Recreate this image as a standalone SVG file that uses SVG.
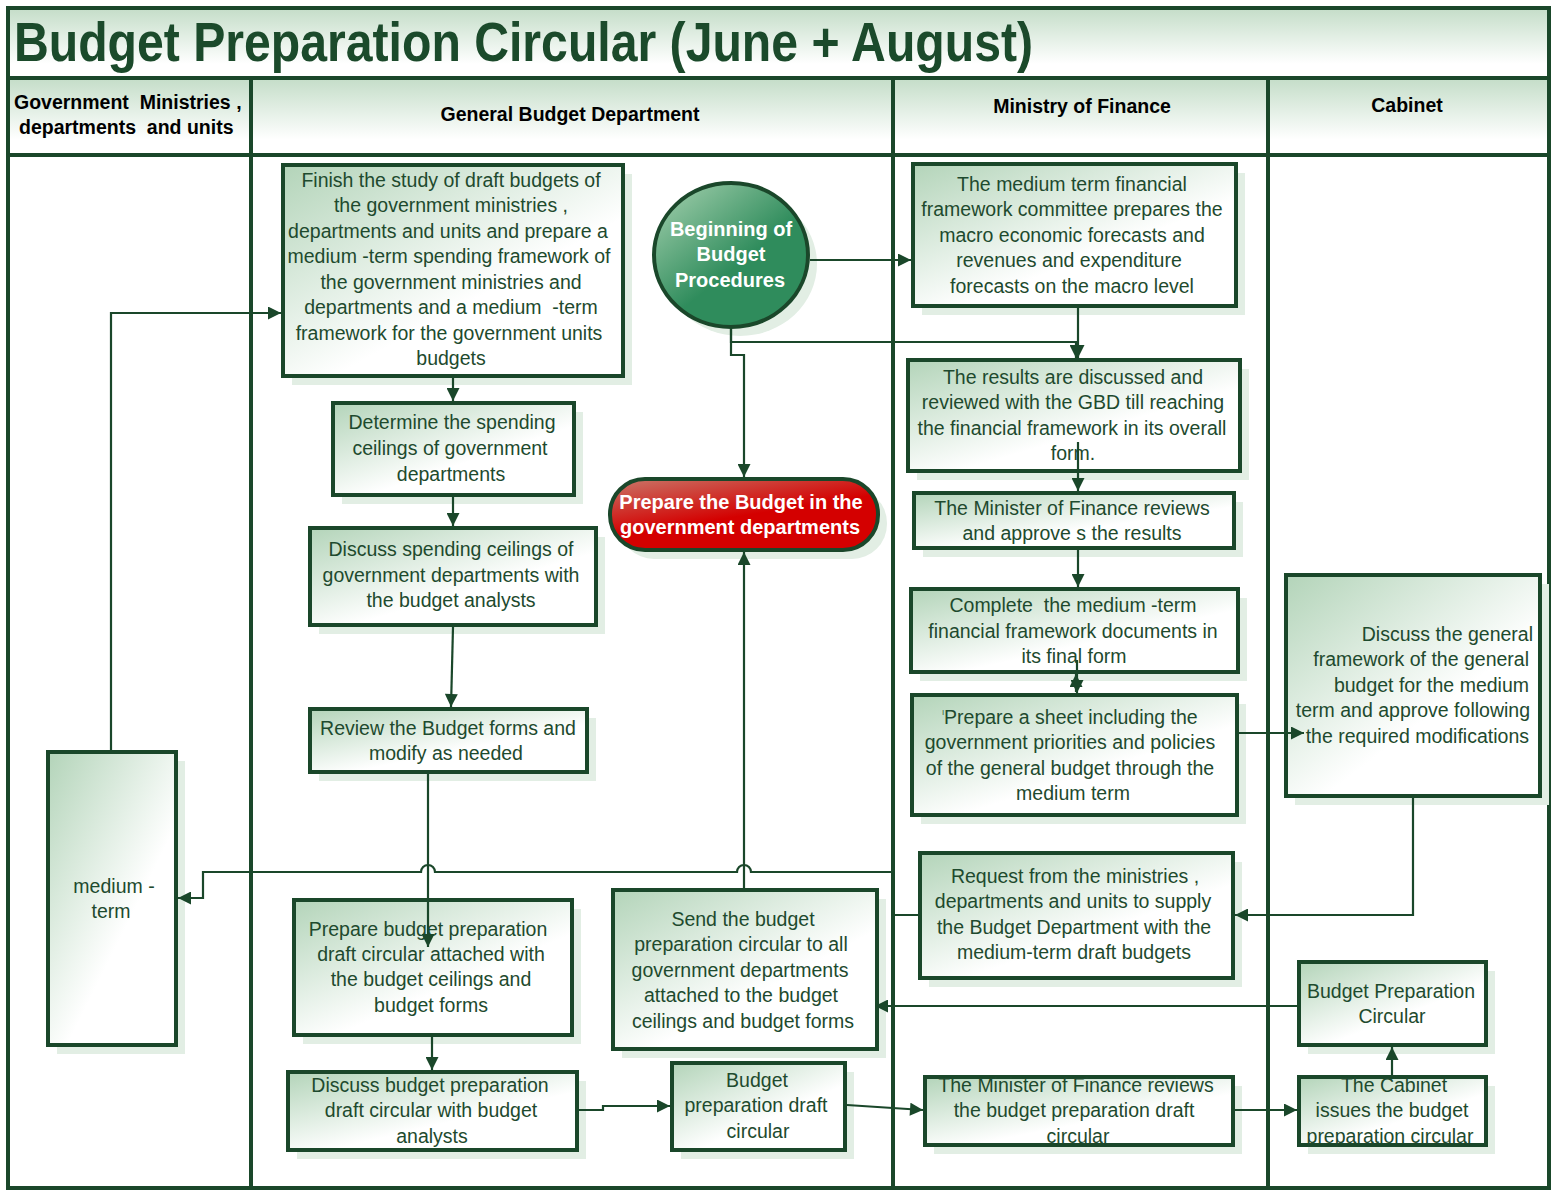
<svg xmlns="http://www.w3.org/2000/svg" width="1553" height="1192" viewBox="0 0 1553 1192">
<defs>
<linearGradient id="gb" x1="0" y1="0" x2="0.75" y2="0.85">
<stop offset="0" stop-color="#b3d4b9"/>
<stop offset="0.75" stop-color="#ffffff"/>
</linearGradient>
<linearGradient id="gh" x1="0" y1="0" x2="0" y2="1">
<stop offset="0" stop-color="#c4ddc8"/>
<stop offset="0.8" stop-color="#ffffff"/>
</linearGradient>
<linearGradient id="gc" x1="0.1" y1="0.1" x2="0.7" y2="0.8">
<stop offset="0" stop-color="#94c7a3"/>
<stop offset="0.7" stop-color="#2f8c5c"/>
</linearGradient>
<linearGradient id="gr" x1="0" y1="0" x2="0.6" y2="1">
<stop offset="0" stop-color="#c9786a"/>
<stop offset="0.6" stop-color="#d40000"/>
</linearGradient>
<marker id="ah" viewBox="0 0 10 10" refX="10" refY="5" markerWidth="15" markerHeight="13" markerUnits="userSpaceOnUse" orient="auto">
<path d="M0,0 L10,5 L0,10 z" fill="#1a472a"/>
</marker>
<style>
.sh{fill:#e2eee4}
.box{fill:url(#gb);stroke:#1a472a;stroke-width:4}
.lane{fill:none;stroke:#1a472a;stroke-width:4}
.t{font-family:"Liberation Sans",Arial,sans-serif;font-size:19.5px;fill:#1e4a2e;text-anchor:middle}
.hd{font-family:"Liberation Sans",Arial,sans-serif;font-size:19.5px;font-weight:bold;fill:#000;text-anchor:middle}
.w{font-family:"Liberation Sans",Arial,sans-serif;font-size:20px;font-weight:bold;fill:#fff;text-anchor:middle}
.ca{fill:none;stroke:#1a472a;stroke-width:2.2;marker-end:url(#ah)}
</style>
</defs>
<rect x="0" y="0" width="1553" height="1192" fill="#fff"/>
<g id="frame">
<rect x="8" y="8" width="1541" height="70" fill="url(#gh)"/>
<rect x="8" y="78" width="243" height="77" fill="url(#gh)"/>
<rect x="251" y="78" width="642" height="77" fill="url(#gh)"/>
<rect x="893" y="78" width="375" height="77" fill="url(#gh)"/>
<rect x="1268" y="78" width="281" height="77" fill="url(#gh)"/>
<rect x="8" y="8" width="1541" height="1180" class="lane"/>
<line x1="8" y1="78" x2="1549" y2="78" class="lane"/>
<line x1="8" y1="155" x2="1549" y2="155" class="lane"/>
<line x1="251" y1="78" x2="251" y2="1188" class="lane"/>
<line x1="893" y1="78" x2="893" y2="1188" class="lane"/>
<line x1="1268" y1="78" x2="1268" y2="1188" class="lane"/>
<text x="14" y="61" font-family="'Liberation Sans',Arial,sans-serif" font-size="55" font-weight="bold" fill="#1b4a2b" textLength="1019" lengthAdjust="spacingAndGlyphs">Budget Preparation Circular (June + August)</text>
<text x="14" y="109" class="hd" style="text-anchor:start" xml:space="preserve">Government  Ministries ,</text>
<text x="19" y="134" class="hd" style="text-anchor:start" xml:space="preserve">departments  and units</text>
<text x="570" y="121" class="hd">General Budget Department</text>
<text x="1082" y="113" class="hd">Ministry of Finance</text>
<text x="1407" y="112" class="hd">Cabinet</text>
</g>
<g id="n1"><rect class="sh" x="292" y="174" width="340" height="211"/><rect class="box" x="283" y="165" width="340" height="211"/>
<text class="t" x="451" y="187">Finish the study of draft budgets of</text><text class="t" x="451" y="212">the government ministries ,</text><text class="t" x="448" y="238">departments and units and prepare a</text><text class="t" x="449" y="263">medium -term spending framework of</text><text class="t" x="451" y="289">the government ministries and</text><text class="t" x="451" y="314" xml:space="preserve">departments and a medium  -term</text><text class="t" x="449" y="340">framework for the government units</text><text class="t" x="451" y="365">budgets</text></g>
<g id="n2"><rect class="sh" x="342" y="412" width="241" height="92"/><rect class="box" x="333" y="403" width="241" height="92"/>
<text class="t" x="452" y="429">Determine the spending</text><text class="t" x="450" y="455">ceilings of government</text><text class="t" x="451" y="481">departments</text></g>
<g id="n3"><rect class="sh" x="319" y="537" width="286" height="97"/><rect class="box" x="310" y="528" width="286" height="97"/>
<text class="t" x="451" y="556">Discuss spending ceilings of</text><text class="t" x="451" y="582">government departments with</text><text class="t" x="451" y="607">the budget analysts</text></g>
<g id="n4"><rect class="sh" x="319" y="718" width="277" height="63"/><rect class="box" x="310" y="709" width="277" height="63"/>
<text class="t" x="448" y="735">Review the Budget forms and</text><text class="t" x="446" y="760">modify as needed</text></g>
<g id="n5"><rect class="sh" x="303" y="909" width="278" height="135"/><rect class="box" x="294" y="900" width="278" height="135"/>
<text class="t" x="428" y="936">Prepare budget preparation</text><text class="t" x="431" y="961">draft circular attached with</text><text class="t" x="431" y="986">the budget ceilings and</text><text class="t" x="431" y="1012">budget forms</text></g>
<g id="n6"><rect class="sh" x="297" y="1081" width="289" height="78"/><rect class="box" x="288" y="1072" width="289" height="78"/>
<text class="t" x="430" y="1092">Discuss budget preparation</text><text class="t" x="431" y="1117">draft circular with budget</text><text class="t" x="432" y="1143">analysts</text></g>
<g id="n7"><rect class="sh" x="681" y="1072" width="173" height="87"/><rect class="box" x="672" y="1063" width="173" height="87"/>
<text class="t" x="757" y="1087">Budget</text><text class="t" x="756" y="1112">preparation draft</text><text class="t" x="758" y="1138">circular</text></g>
<g id="n8"><rect class="sh" x="622" y="899" width="264" height="159"/><rect class="box" x="613" y="890" width="264" height="159"/>
<text class="t" x="743" y="926">Send the budget</text><text class="t" x="741" y="951">preparation circular to all</text><text class="t" x="740" y="977">government departments</text><text class="t" x="741" y="1002">attached to the budget</text><text class="t" x="743" y="1028">ceilings and budget forms</text></g>
<g id="n9"><ellipse class="sh" cx="740" cy="264" rx="77" ry="72"/><ellipse cx="731" cy="255" rx="77" ry="72" fill="url(#gc)" stroke="#1a472a" stroke-width="4"/>
<text class="w" x="731" y="236">Beginning of</text><text class="w" x="731" y="261">Budget</text><text class="w" x="730" y="287">Procedures</text></g>
<g id="n10"><rect class="sh" x="619" y="488" width="268" height="71" rx="35"/><rect x="610" y="479" width="268" height="71" rx="35" fill="url(#gr)" stroke="#1a472a" stroke-width="4"/>
<text class="w" x="741" y="509">Prepare the Budget in the</text><text class="w" x="740" y="534">government departments</text></g>
<g id="n11"><rect class="sh" x="922" y="173" width="323" height="142"/><rect class="box" x="913" y="164" width="323" height="142"/>
<text class="t" x="1072" y="191">The medium term financial</text><text class="t" x="1072" y="216">framework committee prepares the</text><text class="t" x="1072" y="242">macro economic forecasts and</text><text class="t" x="1069" y="267">revenues and expenditure</text><text class="t" x="1072" y="293">forecasts on the macro level</text></g>
<g id="n12"><rect class="sh" x="917" y="369" width="332" height="111"/><rect class="box" x="908" y="360" width="332" height="111"/>
<text class="t" x="1073" y="384">The results are discussed and</text><text class="t" x="1073" y="409">reviewed with the GBD till reaching</text><text class="t" x="1072" y="435">the financial framework in its overall</text><text class="t" x="1073" y="460">form.</text></g>
<g id="n13"><rect class="sh" x="923" y="502" width="320" height="55"/><rect class="box" x="914" y="493" width="320" height="55"/>
<text class="t" x="1072" y="515">The Minister of Finance reviews</text><text class="t" x="1072" y="540">and approve s the results</text></g>
<g id="n14"><rect class="sh" x="920" y="598" width="327" height="83"/><rect class="box" x="911" y="589" width="327" height="83"/>
<text class="t" x="1073" y="612" xml:space="preserve">Complete  the medium -term</text><text class="t" x="1073" y="638">financial framework documents in</text><text class="t" x="1074" y="663">its final form</text></g>
<g id="n15"><rect class="sh" x="921" y="704" width="325" height="120"/><rect class="box" x="912" y="695" width="325" height="120"/>
<text class="t" x="1070" y="724"><tspan font-size="11" dy="-6">ˡ</tspan><tspan dy="6">Prepare a sheet including the</tspan></text><text class="t" x="1070" y="749">government priorities and policies</text><text class="t" x="1070" y="775">of the general budget through the</text><text class="t" x="1073" y="800">medium term</text></g>
<g id="n16"><rect class="sh" x="929" y="862" width="313" height="125"/><rect class="box" x="920" y="853" width="313" height="125"/>
<text class="t" x="1075" y="883">Request from the ministries ,</text><text class="t" x="1073" y="908">departments and units to supply</text><text class="t" x="1074" y="934">the Budget Department with the</text><text class="t" x="1074" y="959">medium-term draft budgets</text></g>
<g id="n17"><rect class="sh" x="934" y="1086" width="308" height="68"/><rect class="box" x="925" y="1077" width="308" height="68"/>
<text class="t" x="1076" y="1092">The Minister of Finance reviews</text><text class="t" x="1074" y="1117">the budget preparation draft</text><text class="t" x="1078" y="1143">circular</text></g>
<g id="n18"><rect class="sh" x="1295" y="584" width="254" height="221"/><rect class="box" x="1286" y="575" width="254" height="221"/>
<text class="t" style="text-anchor:end" x="1533" y="641">Discuss the general</text><text class="t" style="text-anchor:end" x="1529" y="666">framework of the general</text><text class="t" style="text-anchor:end" x="1529" y="692">budget for the medium</text><text class="t" style="text-anchor:end" x="1530" y="717">term and approve following</text><text class="t" style="text-anchor:end" x="1529" y="743">the required modifications</text></g>
<g id="n19"><rect class="sh" x="1308" y="971" width="187" height="83"/><rect class="box" x="1299" y="962" width="187" height="83"/>
<text class="t" x="1391" y="998">Budget Preparation</text><text class="t" x="1392" y="1023">Circular</text></g>
<g id="n20"><rect class="sh" x="1308" y="1086" width="187" height="68"/><rect class="box" x="1299" y="1077" width="187" height="68"/>
<text class="t" x="1394" y="1092">The Cabinet</text><text class="t" x="1392" y="1117">issues the budget</text><text class="t" x="1390" y="1143">preparation circular</text></g>
<g id="n21"><rect class="sh" x="57" y="761" width="128" height="293"/><rect class="box" x="48" y="752" width="128" height="293"/>
<text class="t" x="114" y="893">medium -</text><text class="t" x="111" y="918">term</text></g>
<g id="connectors">
<path class="ca" d="M453,378 V401"/>
<path class="ca" d="M453,497 V526"/>
<path class="ca" d="M453,627 L451,707"/>
<path class="ca" d="M428,774 V947"/>
<path class="ca" d="M432,1037 V1070"/>
<path class="ca" d="M579,1110 H603 V1106 H670"/>
<path class="ca" d="M847,1105 L923,1110"/>
<path class="ca" d="M1235,1110 H1297"/>
<path class="ca" d="M1392,1075 V1047"/>
<path class="ca" d="M1297,1006 H875"/>
<path class="ca" d="M744,888 V552"/>
<path class="ca" d="M918,915 H893 V872 H751 A7,7 0 0 0 737,872 H435 A7,7 0 0 0 421,872 H203 V898 H178"/>
<path class="ca" d="M111,750 V313 H281"/>
<path class="ca" d="M810,260 H911"/>
<path class="ca" d="M731,329 V342 H1076 V358"/>
<path class="ca" d="M1078,308 V358"/>
<path class="ca" d="M731,329 V355 H744 V477"/>
<path class="ca" d="M1078,442 V491"/>
<path class="ca" d="M1078,550 V587"/>
<path class="ca" d="M1077,660 V693"/>
<path class="ca" d="M1076,692 V674"/>
<path class="ca" d="M1239,733 H1304"/>
<path class="ca" d="M1413,798 V915 H1235"/>
</g>
</svg>
